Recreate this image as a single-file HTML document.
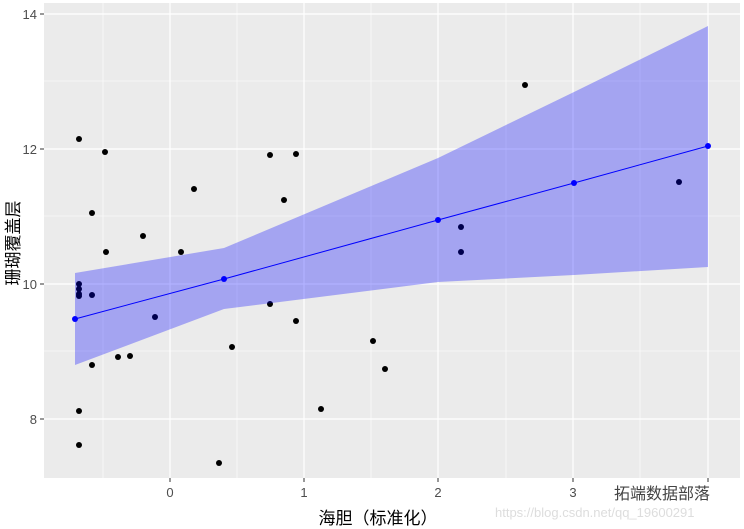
<!DOCTYPE html>
<html><head><meta charset="utf-8"><style>
html,body{margin:0;padding:0;background:#fff;width:744px;height:529px;overflow:hidden}
svg{display:block}
text{font-family:"Liberation Sans","Noto Sans CJK SC",sans-serif}
</style></head><body>
<svg width="744" height="529" xmlns="http://www.w3.org/2000/svg">
<rect x="44" y="3" width="696" height="475" fill="#ebebeb"/>
<g stroke="#fff" stroke-width="0.6">
<line x1="44" x2="740" y1="81" y2="81"/><line x1="44" x2="740" y1="216" y2="216"/><line x1="44" x2="740" y1="351" y2="351"/>
<line y1="3" y2="478" x1="103" x2="103"/><line y1="3" y2="478" x1="237" x2="237"/><line y1="3" y2="478" x1="371" x2="371"/><line y1="3" y2="478" x1="506" x2="506"/><line y1="3" y2="478" x1="640" x2="640"/>
</g>
<g stroke="#fff" stroke-width="1.2">
<line x1="44" x2="740" y1="14" y2="14"/><line x1="44" x2="740" y1="149" y2="149"/><line x1="44" x2="740" y1="284" y2="284"/><line x1="44" x2="740" y1="419" y2="419"/>
<line y1="3" y2="478" x1="170" x2="170"/><line y1="3" y2="478" x1="304" x2="304"/><line y1="3" y2="478" x1="438" x2="438"/><line y1="3" y2="478" x1="573" x2="573"/><line y1="3" y2="478" x1="708" x2="708"/>
</g>
<g fill="#000">
<circle cx="79" cy="139" r="3"/><circle cx="105" cy="152" r="3"/><circle cx="92" cy="213" r="3"/><circle cx="106" cy="252" r="3"/><circle cx="143" cy="236" r="3"/><circle cx="181" cy="252" r="3"/><circle cx="194" cy="189" r="3"/><circle cx="79" cy="284" r="3"/><circle cx="79" cy="289" r="3"/><circle cx="79" cy="294" r="3"/><circle cx="79" cy="296" r="3"/><circle cx="92" cy="295" r="3"/><circle cx="155" cy="317" r="3"/><circle cx="118" cy="357" r="3"/><circle cx="130" cy="356" r="3"/><circle cx="92" cy="365" r="3"/><circle cx="79" cy="411" r="3"/><circle cx="79" cy="445" r="3"/><circle cx="219" cy="463" r="3"/><circle cx="232" cy="347" r="3"/><circle cx="270" cy="155" r="3"/><circle cx="270" cy="304" r="3"/><circle cx="284" cy="200" r="3"/><circle cx="296" cy="154" r="3"/><circle cx="296" cy="321" r="3"/><circle cx="321" cy="409" r="3"/><circle cx="373" cy="341" r="3"/><circle cx="385" cy="369" r="3"/><circle cx="461" cy="227" r="3"/><circle cx="461" cy="252" r="3"/><circle cx="525" cy="85" r="3"/><circle cx="679" cy="182" r="3"/>
</g>
<polygon points="75,273 224,248 438,158 574,92 708,26 708,267 574,275 438,282 224,309 75,365" fill="#0000ff" fill-opacity="0.3"/>
<polyline points="75,319 224,279 438,220 574,183 708,146" fill="none" stroke="#0000ff" stroke-width="1"/>
<g fill="#0000ff"><circle cx="75" cy="319" r="3"/><circle cx="224" cy="279" r="3"/><circle cx="438" cy="220" r="3"/><circle cx="574" cy="183" r="3"/><circle cx="708" cy="146" r="3"/></g>
<g stroke="#333" stroke-width="1">
<line x1="40" x2="44" y1="14" y2="14"/><line x1="40" x2="44" y1="149" y2="149"/><line x1="40" x2="44" y1="284" y2="284"/><line x1="40" x2="44" y1="419" y2="419"/>
<line y1="478" y2="482" x1="170" x2="170"/><line y1="478" y2="482" x1="304" x2="304"/><line y1="478" y2="482" x1="438" x2="438"/><line y1="478" y2="482" x1="573" x2="573"/><line y1="478" y2="482" x1="708" x2="708"/>
</g>
<g fill="#4d4d4d" font-size="13" text-anchor="end">
<text x="37" y="19">14</text><text x="37" y="154">12</text><text x="37" y="289">10</text><text x="37" y="424">8</text>
</g>
<g fill="#4d4d4d" font-size="13" text-anchor="middle">
<text x="170" y="497">0</text><text x="304" y="497">1</text><text x="438" y="497">2</text><text x="573" y="497">3</text>
</g>
<text x="378" y="524" font-size="17" text-anchor="middle" fill="#000">海胆（标准化）</text>
<text transform="translate(19,243) rotate(-90)" font-size="17" text-anchor="middle" fill="#000">珊瑚覆盖层</text>
<text x="495" y="517" font-size="13" fill="#ddd">https://blog.csdn.net/qq_19600291</text>
<text x="614" y="499" font-size="16" fill="#444">拓端数据部落</text>
</svg>
</body></html>
